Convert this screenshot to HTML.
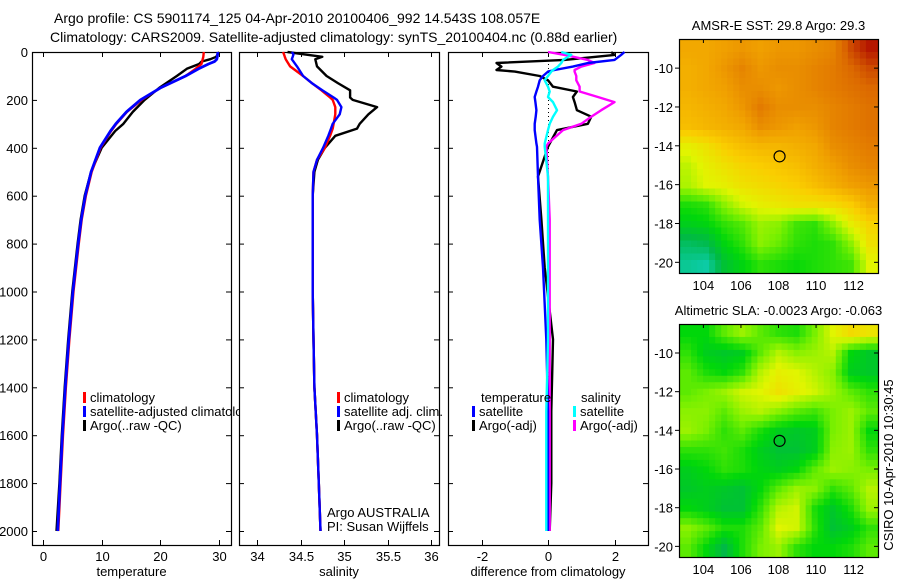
<!DOCTYPE html>
<html><head><meta charset="utf-8"><style>
html,body{margin:0;padding:0;background:#fff;}
svg{display:block;font-family:"Liberation Sans",sans-serif;}
</style></head><body>
<svg id="s" width="900" height="580" viewBox="0 0 900 580">
<text x="54" y="23" font-size="14">Argo profile: CS 5901174_125 04-Apr-2010 20100406_992 14.543S 108.057E</text>
<text x="50" y="42" font-size="14">Climatology: CARS2009. Satellite-adjusted climatology: synTS_20100404.nc (0.88d earlier)</text>
</svg>
<script>
// ---- data ----
const tDepth=[0,20,30,40,50,70,100,150,200,250,300,330,400,500,600,700,800,1000,1200,1400,1600,1800,2000];
const tClim=[27.4,27.3,27.2,27.1,27.0,26.0,24.3,20.0,16.8,14.3,12.5,11.6,9.8,8.3,7.3,6.6,6.1,5.2,4.5,3.9,3.4,3.0,2.6];
const tSat=[29.8,29.7,29.6,29.2,28.2,26.5,24.3,20.0,16.6,14.2,12.4,11.5,9.7,8.2,7.2,6.5,6.0,5.1,4.4,3.8,3.3,2.9,2.5];
const tArgo=[30.0,29.5,28.5,27.0,26.6,24.5,22.8,19.8,17.3,15.3,13.7,12.3,10.0,8.2,7.1,6.4,5.9,5.0,4.3,3.7,3.2,2.8,2.3];
const sDepth=[0,10,20,30,60,100,130,160,190,200,230,260,300,320,350,400,450,500,600,800,1000,1200,1400,1600,1800,2000];
const sClim=[34.30,34.31,34.32,34.33,34.38,34.53,34.63,34.74,34.84,34.87,34.90,34.90,34.88,34.87,34.84,34.78,34.69,34.65,34.64,34.64,34.64,34.65,34.66,34.69,34.71,34.73];
const sSat=[34.40,34.42,34.41,34.40,34.46,34.53,34.63,34.75,34.88,34.92,34.97,34.95,34.87,34.85,34.82,34.76,34.69,34.65,34.64,34.64,34.64,34.65,34.66,34.69,34.71,34.73];
const sArgo=[34.35,34.55,34.75,34.67,34.69,34.80,34.93,35.07,35.07,35.10,35.38,35.28,35.18,35.15,34.90,34.78,34.70,34.66,34.64,34.64,34.64,34.65,34.66,34.69,34.71,34.73];
const dDepth=[0,12,33,46,61,75,82,100,118,145,165,188,209,243,270,300,326,382,396,520,700,900,1200,1500,1800,2000];
const dTempSat=[2.3,2.2,2.0,1.2,0.75,0.2,0.0,-0.15,-0.25,-0.3,-0.35,-0.4,-0.38,-0.35,-0.37,-0.4,-0.4,-0.35,-0.33,-0.3,-0.25,-0.15,-0.05,0.0,0.0,0.0];
const dTempArgo=[1.9,2.0,0.5,-1.55,-1.4,-1.55,-1.0,-0.25,0.0,0.15,0.87,0.75,0.8,0.87,1.3,1.2,0.27,0.05,0.0,-0.3,-0.2,-0.1,0.15,0.1,0.1,0.05];
const dSalSat=[0.4,0.7,0.45,0.4,0.3,0.15,0.1,0.0,-0.1,0.0,0.05,0.0,0.15,0.27,0.15,0.05,0.0,-0.1,-0.1,0.0,0.0,0.0,0.0,-0.05,-0.05,-0.05];
const dSalArgo=[0.0,0.5,1.2,1.4,1.0,0.8,0.8,0.85,0.85,0.95,0.95,1.5,2.0,1.6,1.3,1.0,0.45,0.0,-0.05,0.0,0.05,0.05,0.05,0.05,0.05,0.05];
const depthTicks=[0,200,400,600,800,1000,1200,1400,1600,1800,2000];
const tTicks=[0,10,20,30];
const sTicks=[34,34.5,35,35.5,36];
const dTicks=[-2,0,2];
const lonTicks=[104,106,108,110,112];
const latTicks=[-10,-12,-14,-16,-18,-20];
const sstGrid=[
[0.72,0.72,0.74,0.76,0.74,0.76,0.76,0.78,0.80,0.90,0.97],
[0.70,0.72,0.76,0.80,0.76,0.78,0.78,0.80,0.82,0.86,0.90],
[0.70,0.72,0.74,0.78,0.78,0.76,0.78,0.80,0.82,0.84,0.86],
[0.68,0.70,0.72,0.76,0.82,0.78,0.78,0.78,0.80,0.82,0.84],
[0.66,0.68,0.70,0.72,0.78,0.76,0.74,0.76,0.80,0.82,0.84],
[0.52,0.56,0.62,0.66,0.68,0.68,0.70,0.72,0.78,0.80,0.82],
[0.46,0.52,0.56,0.60,0.62,0.64,0.66,0.70,0.74,0.78,0.80],
[0.44,0.50,0.52,0.56,0.58,0.60,0.62,0.66,0.70,0.74,0.76],
[0.28,0.30,0.40,0.48,0.52,0.54,0.56,0.56,0.58,0.62,0.70],
[0.22,0.24,0.30,0.34,0.42,0.40,0.32,0.30,0.40,0.52,0.60],
[0.12,0.14,0.24,0.30,0.40,0.36,0.30,0.28,0.30,0.40,0.56],
[0.06,0.04,0.18,0.24,0.30,0.28,0.26,0.28,0.30,0.32,0.50]];
const slaGrid=[
[0.25,0.25,0.35,0.42,0.35,0.30,0.28,0.38,0.50,0.58,0.55],
[0.30,0.22,0.20,0.22,0.35,0.45,0.40,0.42,0.45,0.25,0.20],
[0.35,0.28,0.25,0.30,0.45,0.52,0.50,0.45,0.40,0.22,0.20],
[0.35,0.38,0.42,0.48,0.50,0.56,0.52,0.48,0.42,0.35,0.30],
[0.40,0.40,0.35,0.42,0.45,0.40,0.35,0.32,0.38,0.42,0.35],
[0.42,0.38,0.30,0.35,0.28,0.22,0.20,0.22,0.38,0.42,0.25],
[0.30,0.30,0.32,0.28,0.22,0.18,0.18,0.22,0.40,0.42,0.30],
[0.22,0.25,0.30,0.28,0.24,0.22,0.25,0.35,0.42,0.40,0.38],
[0.20,0.22,0.20,0.18,0.25,0.35,0.42,0.40,0.30,0.35,0.45],
[0.25,0.22,0.18,0.18,0.30,0.45,0.48,0.28,0.20,0.28,0.42],
[0.40,0.35,0.28,0.28,0.35,0.50,0.48,0.30,0.18,0.22,0.30],
[0.35,0.25,0.15,0.28,0.38,0.42,0.30,0.25,0.25,0.28,0.35]];
const argoPos=[108.057,-14.543];

// ---- drawing ----
const NS='http://www.w3.org/2000/svg';
const svg=document.getElementById('s');
function mk(tag,attrs,parent){const e=document.createElementNS(NS,tag);for(const k in attrs)e.setAttribute(k,attrs[k]);(parent||svg).appendChild(e);return e;}
const Y0=52,Y1=545;
const yD=d=>52+d*0.2395;
const panels=[
 {x0:32,x1:231,sx:v=>43+v*5.87,ticks:tTicks,label:'temperature',name:'temperature-panel'},
 {x0:239,x1:439,sx:v=>257+(v-34)*87,ticks:sTicks,label:'salinity',name:'salinity-panel'},
 {x0:448,x1:648,sx:v=>548+v*33.25,ticks:dTicks,label:'difference from climatology',name:'difference-panel'}];
panels.forEach((p,i)=>{
 const g=mk('g',{});
 
 
 const r=mk('rect',{x:p.x0+0.5,y:Y0+0.5,width:p.x1-p.x0,height:Y1-Y0,fill:'none',stroke:'#000','stroke-width':1.2},g);
 
 
 depthTicks.forEach(d=>{const y=yD(d)+0.5;
  mk('line',{x1:p.x0,x2:p.x0+5,y1:y,y2:y,stroke:'#000'},g);
  mk('line',{x1:p.x1-5,x2:p.x1,y1:y,y2:y,stroke:'#000'},g);
  if(i===0){const t=mk('text',{x:28,y:yD(d)+5,'font-size':13,'text-anchor':'end'},g);t.textContent=d;
   
   }
 });
 p.ticks.forEach(v=>{const x=Math.round(p.sx(v))+0.5;
  mk('line',{x1:x,x2:x,y1:Y0,y2:Y0+5,stroke:'#000'},g);
  mk('line',{x1:x,x2:x,y1:Y1-5,y2:Y1,stroke:'#000'},g);
  const t=mk('text',{x:x,y:561,'font-size':13,'text-anchor':'middle'},g);t.textContent=v;
  
  
 });
 const al=mk('text',{x:(p.x0+p.x1)/2,y:576,'font-size':13,'text-anchor':'middle'},g);al.textContent=p.label;
 
 
});
function line(depths,vals,sx,color,name,w){
 const pts=depths.map((d,k)=>sx(vals[k]).toFixed(1)+','+yD(d).toFixed(1)).join(' ');
 const e=mk('polyline',{points:pts,fill:'none',stroke:color,'stroke-width':w||2.4,'stroke-linejoin':'round'});
 
 
}
const zl=mk('line',{x1:548.5,x2:548.5,y1:Y0,y2:yD(2000),stroke:'#000','stroke-dasharray':'1,3'});


line(tDepth,tArgo,panels[0].sx,'#000','temp-argo-line');
line(tDepth,tClim,panels[0].sx,'#f00','temp-climatology-line');
line(tDepth,tSat,panels[0].sx,'#00f','temp-satellite-line',2.8);
line(sDepth,sArgo,panels[1].sx,'#000','sal-argo-line');
line(sDepth,sClim,panels[1].sx,'#f00','sal-climatology-line');
line(sDepth,sSat,panels[1].sx,'#00f','sal-satellite-line');
line(dDepth,dTempArgo,panels[2].sx,'#000','diff-temp-argo-line');
line(dDepth,dSalArgo,panels[2].sx,'#f0f','diff-sal-argo-line');
line(dDepth,dTempSat,panels[2].sx,'#00f','diff-temp-satellite-line');
line(dDepth,dSalSat,panels[2].sx,'#0ff','diff-sal-satellite-line');

function legend(x,y,color,label,name,parent){
 const g=mk('g',{},parent);
 
 
 if(color)mk('rect',{x:x,y:y-10,width:3,height:11,fill:color},g);
 const t=mk('text',{x:x+7,y:y,'font-size':13},g);t.textContent=label;
}
const cp=mk('clipPath',{id:'c1'});
mk('rect',{x:0,y:0,width:239,height:580},cp);
legend(83,402,'#f00','climatology','legend-climatology');
const lg=mk('g',{'clip-path':'url(#c1)'});


legend(83,416,'#00f','satellite-adjusted climatology','legend-satellite-adjusted',lg);
legend(83,430,'#000','Argo(..raw -QC)','legend-argo-raw');
legend(337,402,'#f00','climatology','legend-sal-climatology');
legend(337,416,'#00f','satellite adj. clim.','legend-sal-satellite');
legend(337,430,'#000','Argo(..raw -QC)','legend-sal-argo');
legend(320,517,null,'Argo AUSTRALIA','argo-australia-label');
legend(320,531,null,'PI: Susan Wijffels','pi-label');
legend(474,402,null,'temperature','legend-temp-heading');
legend(472,416,'#00f','satellite','legend-temp-satellite');
legend(472,430,'#000','Argo(-adj)','legend-temp-argo');
legend(574,402,null,'salinity','legend-sal-heading');
legend(573,416,'#0ff','satellite','legend-diff-sal-satellite');
legend(573,430,'#f0f','Argo(-adj)','legend-diff-sal-argo');

const stops=[[0,[16,210,200]],[0.15,[0,185,70]],[0.25,[0,215,10]],[0.38,[120,240,0]],[0.5,[225,245,0]],[0.62,[250,205,0]],[0.74,[240,160,0]],[0.86,[220,105,0]],[1,[170,0,0]]];
function cmap(v){for(let i=1;i<stops.length;i++){if(v<=stops[i][0]){const a=stops[i-1],b=stops[i],t=(v-a[0])/(b[0]-a[0]);return 'rgb('+a[1].map((c,k)=>Math.round(c+(b[1][k]-c)*t)).join(',')+')';}}return 'rgb(170,0,0)';}
function sample(grid,fr,fc){
 const R=grid.length-1,C=grid[0].length-1;
 fr=Math.max(0,Math.min(R,fr));fc=Math.max(0,Math.min(C,fc));
 const r0=Math.floor(fr),c0=Math.floor(fc),r1=Math.min(R,r0+1),c1=Math.min(C,c0+1),tr=fr-r0,tc=fc-c0;
 return grid[r0][c0]*(1-tr)*(1-tc)+grid[r0][c1]*(1-tr)*tc+grid[r1][c0]*tr*(1-tc)+grid[r1][c1]*tr*tc;
}
function map(y0,y1,grid,title,name){
 const x0=679,x1=878,lon0=102.7,lon1=113.3,lat0=-8.5,lat1=-20.55;
 const mx=l=>x0+(l-lon0)/(lon1-lon0)*(x1-x0), my=l=>y0+(l-lat0)/(lat1-lat0)*(y1-y0);
 const g=mk('g',{});
 
 
 const rows=grid.length,cols=grid[0].length,S=3;
 const cw=(x1-x0)/(cols*S),ch=(y1-y0)/(rows*S);
 for(let r=0;r<rows*S;r++)for(let c=0;c<cols*S;c++){
  const v=sample(grid,(r+0.5)/S-0.5,(c+0.5)/S-0.5);
  const e=mk('rect',{x:(x0+c*cw).toFixed(2),y:(y0+r*ch).toFixed(2),width:(cw+0.5).toFixed(2),height:(ch+0.5).toFixed(2),fill:cmap(v)},g);
  
  
 }
 mk('rect',{x:x0+0.5,y:y0+0.5,width:x1-x0,height:y1-y0,fill:'none',stroke:'#000','stroke-width':1.2},g);
 lonTicks.forEach(l=>{const x=mx(l);
  mk('line',{x1:x,x2:x,y1:y0,y2:y0+4,stroke:'#000'},g);
  const t=mk('text',{x:x,y:y1+17,'font-size':13,'text-anchor':'middle'},g);t.textContent=l;
  
  });
 latTicks.forEach(l=>{const y=my(l);
  mk('line',{x1:x0,x2:x0-4,y1:y,y2:y,stroke:'#000'},g);
  mk('line',{x1:x1,x2:x1-4,y1:y,y2:y,stroke:'#000'},g);
  const t=mk('text',{x:x0-6,y:y+5,'font-size':13,'text-anchor':'end'},g);t.textContent=l;
  
  });
 const c=mk('circle',{cx:mx(argoPos[0]),cy:my(argoPos[1]),r:5.5,fill:'none',stroke:'#000','stroke-width':1.2},g);
 
 
 const t=mk('text',{x:(x0+x1)/2,y:y0-9,'font-size':13,'text-anchor':'middle'},g);t.textContent=title;
 
 
}
map(39,273,sstGrid,'AMSR-E SST: 29.8 Argo: 29.3','sst-map');
map(324,557,slaGrid,'Altimetric SLA: -0.0023 Argo: -0.063','sla-map');
const cs=mk('text',{x:0,y:0,'font-size':13,'text-anchor':'middle',transform:'translate(893,465) rotate(-90)'});
cs.textContent='CSIRO 10-Apr-2010 10:30:45';


</script>
</body></html>
